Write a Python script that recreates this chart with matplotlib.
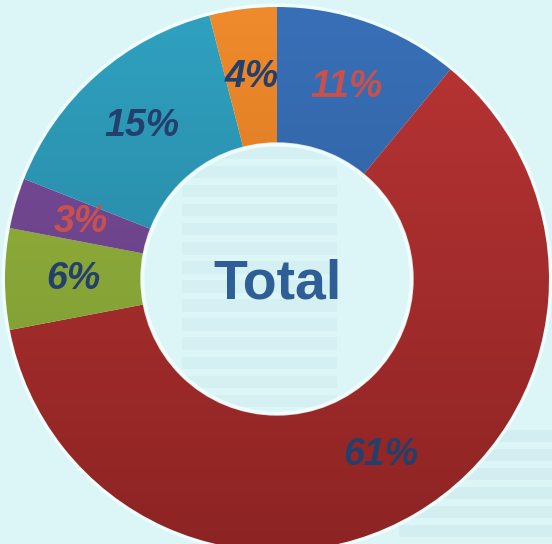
import matplotlib.pyplot as plt
import matplotlib.colors as mcolors
import numpy as np

# slice values (percent), clockwise from 12 o'clock
labels = ['11%', '61%', '6%', '3%', '15%', '4%']
values = [11, 61, 6, 3, 15, 4]
top_colors = ['#3870b8', '#bb3535', '#98b63e', '#7c4e9c', '#30a2c2', '#f08c2c']
bottom_colors = ['#2b5690', '#8c2323', '#789430', '#5c387a', '#227890', '#c66518']
label_colors = ['#c8514d', '#23406c', '#23406c', '#c8514d', '#23406c', '#23406c']

bg = '#dcf6f8'
stripe = '#c9e8ea'

fig = plt.figure(figsize=(5.52, 5.44), dpi=100)
fig.patch.set_facecolor(bg)
ax = fig.add_axes([0, 0, 1, 1])
ax.set_facecolor(bg)

# faint watermark stripes in the background
for y0 in np.arange(-0.75, 0.5, 0.07):
    ax.add_patch(plt.Rectangle((-0.35, y0), 0.57, 0.045, color=stripe, alpha=0.4, zorder=0, lw=0))
for y0 in np.arange(-0.95, -0.55, 0.07):
    ax.add_patch(plt.Rectangle((0.45, y0), 0.6, 0.045, color=stripe, alpha=0.5, zorder=0, lw=0))

wedges, _ = ax.pie(values, startangle=90, counterclock=False, radius=1.0,
                   colors=top_colors,
                   wedgeprops=dict(width=0.5, edgecolor='none', linewidth=0))

# soft light rim around the ring
ax.add_patch(plt.Circle((0, 0), 1.005, fill=False, ec='#f4ffff', lw=3, alpha=0.8, zorder=0.5))
ax.add_patch(plt.Circle((0, 0), 0.495, fill=False, ec='#f4ffff', lw=3, alpha=0.8, zorder=3))

# vertical gradient inside each wedge
grad = np.linspace(0, 1, 256).reshape(-1, 1)
for w, c0, c1 in zip(wedges, top_colors, bottom_colors):
    cmap = mcolors.LinearSegmentedColormap.from_list('g', [c0, c1])
    w.set_facecolor('none')
    im = ax.imshow(grad, cmap=cmap, extent=(-1.05, 1.05, -1.05, 1.05),
                   origin='upper', aspect='auto', zorder=1)
    im.set_clip_path(w)

# percentage labels at the middle of each slice
total = sum(values)
start = 90.0
for lab, v, col in zip(labels, values, label_colors):
    mid = np.deg2rad(start - v / total * 360 / 2)
    start -= v / total * 360
    ax.text(0.75 * np.cos(mid), 0.75 * np.sin(mid), lab, ha='center', va='center',
            fontsize=27, fontweight='bold', fontstyle='italic', color=col,
            family='Liberation Sans', zorder=5)

ax.text(0, -0.02, 'Total', ha='center', va='center', fontsize=40, fontweight='bold',
        color='#2f5e96', family='Liberation Sans', zorder=5)

ax.set_aspect('auto')
ax.set_xlim(-277 / 272, 275 / 272)
ax.set_ylim(-265 / 272, 279 / 272)
ax.axis('off')

fig.savefig('out.png', dpi=100, facecolor=bg)
